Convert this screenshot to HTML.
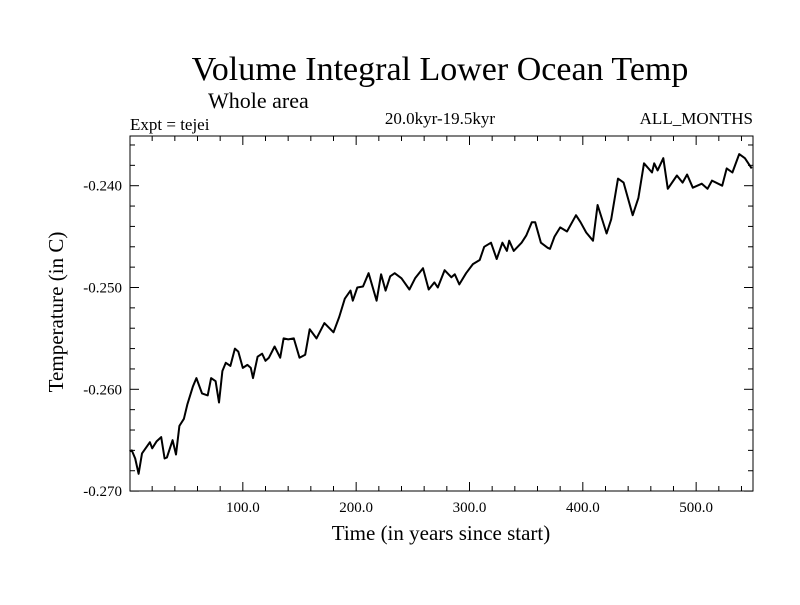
<!DOCTYPE html>
<html><head><meta charset="utf-8"><style>
body{margin:0;background:#fff;}
svg text{font-family:"Liberation Serif",serif;fill:#000;}
</style></head><body>
<svg id="chart" width="800" height="600" xmlns="http://www.w3.org/2000/svg">
<rect width="800" height="600" fill="#fff"/>
<text x="440" y="80" font-size="34" text-anchor="middle">Volume Integral Lower Ocean Temp</text>
<text x="208" y="108" font-size="22">Whole area</text>
<text x="130" y="130" font-size="17">Expt = tejei</text>
<text x="440" y="124" font-size="17" text-anchor="middle">20.0kyr-19.5kyr</text>
<text x="753" y="124" font-size="17" text-anchor="end">ALL_MONTHS</text>
<g id="axes"></g>
<text x="441" y="540" font-size="21" text-anchor="middle">Time (in years since start)</text>
<text transform="translate(63,312) rotate(-90)" font-size="21" text-anchor="middle">Temperature (in C)</text>
</svg>
<script>
const years=[0,2,5,8,11,18,20,24,28,31,33,38,41,44,48,51,56,59,64,69,72,76,79,82,85,89,93,96,100,104,107,109,113,117,120,123,128,133,136,140,145,150,155,159,165,172,180,185,190,195,197,201,206,211,218,222,226,230,234,240,247,252,259,264,269,272,278,284,287,291,297,303,309,313,319,324,329,333,335,339,346,350,355,358,363,369,371,375,380,386,394,398,403,409,413,421,425,431,436,444,449,454,461,463,466,471,475,483,488,492,497,505,510,514,523,527,532,538,543,549];
const temps=[-0.2661,-0.2660,-0.2668,-0.2683,-0.2663,-0.2652,-0.2658,-0.2651,-0.2647,-0.2668,-0.2667,-0.2650,-0.2664,-0.2636,-0.2629,-0.2615,-0.2597,-0.2589,-0.2604,-0.2606,-0.2589,-0.2592,-0.2613,-0.2582,-0.2574,-0.2577,-0.2560,-0.2563,-0.2579,-0.2576,-0.2579,-0.2589,-0.2568,-0.2565,-0.2572,-0.2569,-0.2558,-0.2569,-0.2550,-0.2551,-0.2550,-0.2569,-0.2566,-0.2541,-0.2550,-0.2535,-0.2544,-0.2529,-0.2511,-0.2503,-0.2513,-0.2500,-0.2499,-0.2486,-0.2513,-0.2487,-0.2503,-0.2489,-0.2486,-0.2491,-0.2502,-0.2491,-0.2481,-0.2502,-0.2495,-0.2500,-0.2483,-0.2490,-0.2487,-0.2497,-0.2486,-0.2477,-0.2473,-0.2460,-0.2456,-0.2472,-0.2456,-0.2464,-0.2454,-0.2464,-0.2456,-0.2449,-0.2436,-0.2436,-0.2456,-0.2461,-0.2462,-0.2450,-0.2441,-0.2445,-0.2429,-0.2436,-0.2446,-0.2454,-0.2419,-0.2447,-0.2433,-0.2393,-0.2397,-0.2429,-0.2412,-0.2378,-0.2387,-0.2378,-0.2385,-0.2373,-0.2403,-0.2390,-0.2397,-0.2389,-0.2402,-0.2398,-0.2403,-0.2395,-0.2400,-0.2383,-0.2387,-0.2369,-0.2373,-0.2383];
const xTicks=[100,200,300,400,500];
const xTickLabels=["100.0","200.0","300.0","400.0","500.0"];
const yTicks=[-0.240,-0.250,-0.260,-0.270];
const yTickLabels=["-0.240","-0.250","-0.260","-0.270"];
const X0=130,X1=753,Y0=136,Y1=491;
function xs(v){return 129.5+v*1.1333;}
function ys(v){return 185.7+(-0.240-v)*10180;}
const NS="http://www.w3.org/2000/svg";
const g=document.getElementById('axes');
function mk(t,a){const e=document.createElementNS(NS,t);for(const k in a)e.setAttribute(k,a[k]);g.appendChild(e);return e;}
const frame=mk('rect',{x:X0,y:Y0,width:X1-X0,height:Y1-Y0,fill:'none',stroke:'#000','stroke-width':1});


for(let v=20;xs(v)<X1-1;v+=20){
  const maj=v%100===0, L=maj?9:5, x=xs(v);
  const t1=mk('line',{x1:x,y1:Y1,x2:x,y2:Y1-L,stroke:'#000'});
  
  
  const t2=mk('line',{x1:x,y1:Y0,x2:x,y2:Y0+L,stroke:'#000'});
  
  
}
xTicks.forEach((v,i)=>{
  const t=mk('text',{x:xs(v),y:Y1+21,'font-size':15,'text-anchor':'middle'});
  t.textContent=xTickLabels[i];
  
  
});
for(let k=0;k<=18;k++){
  const v=-0.236-k*0.002, y=ys(v);
  if(y<Y0||y>Y1+0.5)continue;
  const maj=Math.abs(Math.round(v*1000)%10)===0, L=maj?9:5;
  const t1=mk('line',{x1:X0,y1:y,x2:X0+L,y2:y,stroke:'#000'});
  
  
  const t2=mk('line',{x1:X1,y1:y,x2:X1-L,y2:y,stroke:'#000'});
  
  
}
yTicks.forEach((v,i)=>{
  const t=mk('text',{x:X0-8,y:ys(v)+5,'font-size':15,'text-anchor':'end'});
  t.textContent=yTickLabels[i];
  
  
});
const d=years.map((v,i)=>(i?'L':'M')+xs(v).toFixed(1)+','+ys(temps[i]).toFixed(1)).join('');
const p=mk('path',{d:d,fill:'none',stroke:'#000','stroke-width':2,'stroke-linejoin':'round'});


</script>
</body></html>
